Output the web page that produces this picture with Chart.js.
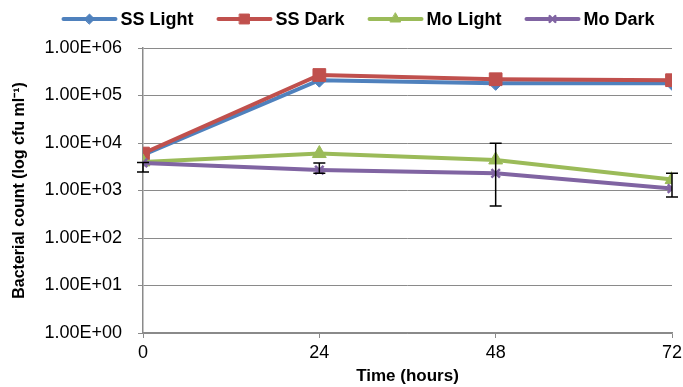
<!DOCTYPE html>
<html>
<head>
<meta charset="utf-8">
<script src="https://cdn.jsdelivr.net/npm/chart.js@4.4.0/dist/chart.umd.min.js"></script>
<style>
  html, body { margin: 0; padding: 0; background: #fff; }
  #wrap { width: 683px; height: 387px; }
</style>
</head>
<body>
<div id="wrap"><canvas id="chart" width="683" height="387"></canvas></div>
<script>
// values
const hours = [0, 24, 48, 72];
const ssLight = [5600, 210000, 180000, 180000];
const ssDark = [6000, 270000, 220000, 210000];
const moLight = [4000, 6000, 4400, 1700];
const moDark = [3800, 2700, 2300, 1100];

// error bars (low / high), null where there is none
const moLightErrLow = [null, null, 470, 730];
const moLightErrHigh = [null, null, 9900, 2300];
const moDarkErrLow = [2450, 2300, null, null];
const moDarkErrHigh = [3900, 3800, null, null];

const yTicks = [1, 10, 100, 1000, 10000, 100000, 1000000];
const yTickLabels = ['1.00E+00', '1.00E+01', '1.00E+02', '1.00E+03', '1.00E+04', '1.00E+05', '1.00E+06'];
const xTicks = [0, 24, 48, 72];

const FONT = '"Liberation Sans", Arial, sans-serif';
const GRID = '#8a8a8a';

const toPoints = vals => vals.map((v, i) => ({ x: hours[i], y: v }));

const makeSeries = (label, vals, color, style, radius, order, errLow, errHigh) => ({
    label: label,
    data: toPoints(vals),
    borderColor: color,
    backgroundColor: color,
    pointBackgroundColor: color,
    pointBorderColor: color,
    pointStyle: style,
    pointRadius: radius,
    pointBorderWidth: style === 'crossRot' ? 2.5 : 1,
    borderWidth: 4,
    tension: 0,
    order: order,
    errLow: errLow,
    errHigh: errHigh
});

// excel style legend: line with the marker on it
const lineLegend = {
    id: 'lineLegend',
    afterDraw(chart) {
        const ctx = chart.ctx;
        const y = 19;
        const lineLen = 56;
        ctx.save();
        ctx.font = 'bold 18px ' + FONT;
        ctx.textBaseline = 'middle';
        const sets = chart.data.datasets;
        let total = 0;
        sets.forEach((ds, i) => {
            total += lineLen + 3 + ctx.measureText(ds.label).width;
            if (i < sets.length - 1) total += 23;
        });
        let x = 358 - total / 2;
        sets.forEach(ds => {
            ctx.strokeStyle = ds.borderColor;
            ctx.lineWidth = 4;
            ctx.lineCap = 'round';
            ctx.beginPath();
            ctx.moveTo(x + 2, y);
            ctx.lineTo(x + lineLen - 2, y);
            ctx.stroke();
            if (Chart.helpers && Chart.helpers.drawPoint) {
                ctx.fillStyle = ds.pointBackgroundColor;
                ctx.strokeStyle = ds.pointBorderColor;
                ctx.lineWidth = ds.pointBorderWidth;
                Chart.helpers.drawPoint(ctx, {
                    pointStyle: ds.pointStyle,
                    radius: ds.pointRadius - 2,
                    borderWidth: ds.pointBorderWidth,
                    rotation: 0
                }, x + lineLen / 2, y);
            }
            ctx.fillStyle = '#000';
            ctx.fillText(ds.label, x + lineLen + 3, y + 1);
            x += lineLen + 3 + ctx.measureText(ds.label).width + 23;
        });
        ctx.restore();
    }
};

const errorBars = {
    id: 'errorBars',
    afterDatasetsDraw(chart) {
        const ctx = chart.ctx;
        const xs = chart.scales.x;
        const ys = chart.scales.y;
        ctx.save();
        ctx.strokeStyle = '#000';
        ctx.lineWidth = 1.5;
        chart.data.datasets.forEach(ds => {
            if (!ds.errLow) return;
            ds.errLow.forEach((lo, i) => {
                const hi = ds.errHigh[i];
                if (lo == null || hi == null) return;
                const px = xs.getPixelForValue(hours[i]);
                const pLo = ys.getPixelForValue(lo);
                const pHi = ys.getPixelForValue(hi);
                ctx.beginPath();
                ctx.moveTo(px, pLo);
                ctx.lineTo(px, pHi);
                ctx.moveTo(px - 6, pLo);
                ctx.lineTo(px + 6, pLo);
                ctx.moveTo(px - 6, pHi);
                ctx.lineTo(px + 6, pHi);
                ctx.stroke();
            });
        });
        ctx.restore();
    }
};

new Chart(document.getElementById('chart').getContext('2d'), {
    type: 'line',
    data: {
        datasets: [
            makeSeries('SS Light', ssLight, '#4F81BD', 'rectRot', 7, 4),
            makeSeries('SS Dark', ssDark, '#C0504D', 'rect', 9, 3),
            makeSeries('Mo Light', moLight, '#9BBB59', 'triangle', 8, 2, moLightErrLow, moLightErrHigh),
            makeSeries('Mo Dark', moDark, '#8064A2', 'crossRot', 6, 1, moDarkErrLow, moDarkErrHigh)
        ]
    },
    options: {
        responsive: false,
        animation: false,
        layout: { padding: { top: 48, right: 11, left: 0, bottom: 0 } },
        plugins: {
            legend: { display: false },
            tooltip: { enabled: false }
        },
        scales: {
            x: {
                type: 'linear',
                min: 0,
                max: 72,
                afterBuildTicks: scale => { scale.ticks = xTicks.map(v => ({ value: v })); },
                afterFit: scale => { scale.height = 54; scale.paddingRight = 0; },
                ticks: {
                    color: '#000',
                    font: { family: FONT, size: 18 },
                    padding: 4
                },
                grid: { drawOnChartArea: false, drawTicks: true, tickLength: 5, color: GRID },
                border: { color: GRID, width: 1.5 },
                title: {
                    display: true,
                    text: 'Time (hours)',
                    color: '#000',
                    font: { family: FONT, size: 17, weight: 'bold' },
                    padding: { top: -4, bottom: 0 }
                }
            },
            y: {
                type: 'logarithmic',
                min: 1,
                max: 1000000,
                afterBuildTicks: scale => { scale.ticks = yTicks.map(v => ({ value: v })); },
                afterFit: scale => { scale.width = 143; },
                ticks: {
                    color: '#000',
                    font: { family: FONT, size: 18 },
                    padding: 16,
                    callback: (value, index) => yTickLabels[index]
                },
                grid: { color: GRID, tickLength: 5, lineWidth: 1 },
                border: { color: GRID, width: 1.5 },
                title: {
                    display: true,
                    text: 'Bacterial count (log cfu ml\u207B\u00B9)',
                    color: '#000',
                    font: { family: FONT, size: 16, weight: 'bold' },
                    padding: { top: 10, bottom: 0 }
                }
            }
        }
    },
    plugins: [lineLegend, errorBars]
});
</script>
</body>
</html>
